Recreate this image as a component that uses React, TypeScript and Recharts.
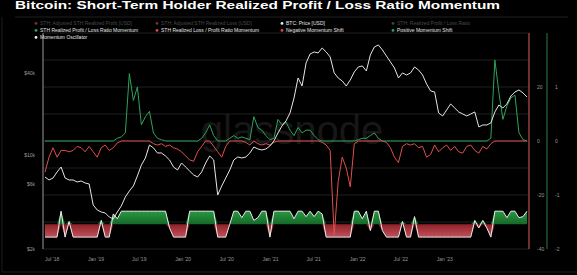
import React from 'react';
import { ComposedChart, Line, Area, XAxis, YAxis, CartesianGrid } from 'recharts';

const W = 577;
const H = 275;
const DAY = 86400000;
const START = Date.UTC(2018, 5, 1);
const STEP_DAYS = 16.83;

// BTC price [USD]
const price = [
  6840, 6500, 6725, 7450, 8115, 6725, 6500, 6500, 6283, 6390,
  6175, 6070, 4240, 3895, 3763, 3700, 3455, 3340, 3763, 4170,
  4863, 5386, 5868, 6960, 8400, 9465, 11820, 11230, 10310, 10310,
  9795, 9150, 8115, 7712, 8690, 8115, 7580, 7080, 6840, 7450,
  8690, 9795, 9150, 5030, 5868, 6725, 7712, 9150, 9630, 9465,
  9630, 10310, 11420, 11040, 10850, 11040, 11620, 12655, 14505, 16350,
  17810, 20420, 26380, 37120, 32370, 47970, 55920, 57870, 56890, 61960,
  57870, 53120, 40440, 37120, 35270, 32370, 35870, 41130, 44800, 45570,
  41840, 54980, 63030, 65230, 59880, 54050, 48790, 44040, 37120, 40440,
  39060, 40440, 44800, 42560, 39060, 33500, 29730, 29230, 20420, 19400,
  21490, 23810, 22240, 20770, 20070, 19400, 20070, 20770, 16080, 16630,
  16630, 17210, 20770, 23400, 22240, 23810, 27290, 29230, 30240, 28730,
  26840,
];

// STH Realized Profit / Loss Ratio Momentum (positive side)
const profitMomentum = [
  0, 0, 0, 0, 0, 0, 0, 0, 0, 0,
  0, 0, 0, 0, 0, 0, 0, 0, 1, 1.5,
  3, 25, 15, 20, 6, 9, 11, 3, 1, 0.5,
  0, 0, 0, 0, 0, 0, 0, 0, 0, 1,
  3, 6, 2, 0, 0, 0, 1, 2, 1, 1.5,
  1, 0.5, 9, 5, 4, 2, 0.5, 1, 8, 6,
  7, 4, 2, 5, 3, 4, 4, 2, 0.5, 0,
  0, 0, 0, 0, 0, 0, 0, 0, 0.5, 1,
  1, 2, 3, 1, 0, 0, 0, 0, 0, 0,
  0, 0, 0, 0, 0, 0, 0, 0, 0, 0,
  0, 0, 0, 0, 0, 0, 0, 0, 0, 0,
  0, 1, 30, 18, 8, 13, 16, 17, 3, 0.5,
  0,
];

// STH Realized Loss / Profit Ratio Momentum (negative side)
const lossMomentum = [
  -11.5, -6, -2.5, -6, -3.5, -3.5, -4, -3.5, -2, -2.5,
  -4, -2, -4, -6, -2.5, -1.5, -3.5, -2.5, -0.7, 0,
  0, 0, 0, 0, 0, 0, 0, -1, -1.5, -1,
  -2, -1.5, -2.5, -3, -4, -5.5, -7, -7.5, -4, -2,
  0, 0, -2, -4, -6, -2, 0, 0, 0, 0,
  -0.5, -1.5, 0, -1, -1.5, -1, -1.5, -0.5, 0, 0,
  0, 0, 0, 0, 0, 0, 0, 0, 0, -0.5,
  -1.5, -3.5, -35, -15, -6, -10, -17, -1, 0, 0,
  0, 0, 0, 0, 0, -0.5, -2.5, -6, -8, -2,
  -1, -1.5, -1, -2.5, -2, -6, -5, -1.5, -4, -2.5,
  -1.5, -3.5, -2, -4, -4.5, -2, -1.5, -3.5, -4.5, -2,
  -3, -1, 0, 0, 0, 0, 0, 0, 0, 0,
  0,
];

// Momentum Oscillator (right axis units)
const OSC_MID = -1.54;
const oscillator = [
  -1.78, -1.78, -1.78, -1.78, -1.30, -1.78, -1.49, -1.78, -1.78, -1.78,
  -1.78, -1.78, -1.78, -1.78, -1.47, -1.78, -1.78, -1.35, -1.44, -1.30,
  -1.30, -1.30, -1.30, -1.30, -1.30, -1.30, -1.30, -1.30, -1.30, -1.30,
  -1.30, -1.61, -1.78, -1.78, -1.78, -1.78, -1.30, -1.30, -1.30, -1.30,
  -1.30, -1.30, -1.30, -1.78, -1.78, -1.78, -1.54, -1.30, -1.30, -1.42,
  -1.30, -1.30, -1.47, -1.42, -1.30, -1.30, -1.78, -1.30, -1.30, -1.30,
  -1.30, -1.30, -1.44, -1.30, -1.30, -1.40, -1.30, -1.40, -1.30, -1.35,
  -1.78, -1.78, -1.78, -1.78, -1.78, -1.78, -1.78, -1.30, -1.30, -1.44,
  -1.30, -1.66, -1.30, -1.30, -1.66, -1.78, -1.78, -1.78, -1.78, -1.49,
  -1.78, -1.78, -1.40, -1.78, -1.78, -1.78, -1.78, -1.78, -1.78, -1.78,
  -1.78, -1.78, -1.78, -1.78, -1.78, -1.78, -1.78, -1.47, -1.61, -1.47,
  -1.61, -1.78, -1.30, -1.30, -1.30, -1.42, -1.30, -1.30, -1.42, -1.40,
  -1.30,
];

const xTicks = [
  Date.UTC(2018, 6, 1), Date.UTC(2019, 0, 1), Date.UTC(2019, 6, 1), Date.UTC(2020, 0, 1),
  Date.UTC(2020, 6, 1), Date.UTC(2021, 0, 1), Date.UTC(2021, 6, 1), Date.UTC(2022, 0, 1),
  Date.UTC(2022, 6, 1), Date.UTC(2023, 0, 1),
];
const xTickLabels = ["Jul '18", "Jan '19", "Jul '19", "Jan '20", "Jul '20", "Jan '21", "Jul '21", "Jan '22", "Jul '22", "Jan '23"];

const priceTicks = [2000, 6000, 10000, 40000];
const priceTickLabels = ['$2k', '$6k', '$10k', '$40k'];

const momentumTicks = [-40, -30, -20, -10, 0, 10, 20, 30, 40];
const momentumLabels = ['-40', '', '-20', '', '0', '', '20', '', ''];

const oscTicks = [-2, -1, 0, 1];
const oscTickLabels = ['-2', '-1', '0', '1'];

const data = price.map((p, i) => ({
  t: START + i * STEP_DAYS * DAY,
  price: p,
  profit: profitMomentum[i],
  loss: lossMomentum[i],
  osc: oscillator[i],
  oscPos: Math.max(oscillator[i], OSC_MID),
  oscNeg: Math.min(oscillator[i], OSC_MID),
}));

const FONT = '"Liberation Sans", Arial, sans-serif';
const tickStyle = { fill: '#9a9a9a', fontSize: 5, fontFamily: FONT };

const legendRows = [
  [
    { x: 36, color: '#7a3030', text: 'STH: Adjusted STH Realized Profit [USD]', dim: true },
    { x: 157, color: '#7a3030', text: 'STH: Adjusted STH Realized Loss [USD]', dim: true },
    { x: 282, color: '#e8e8e8', text: 'BTC: Price [USD]', dim: false },
    { x: 393, color: '#3a4a3a', text: 'STH: Realized Profit / Loss Ratio', dim: true },
  ],
  [
    { x: 36, color: '#2fa35a', text: 'STH Realized Profit / Loss Ratio Momentum', dim: false },
    { x: 157, color: '#e04848', text: 'STH Realized Loss / Profit Ratio Momentum', dim: false },
    { x: 282, color: '#e04848', text: 'Negative Momentum Shift', dim: false },
    { x: 393, color: '#2fa35a', text: 'Positive Momentum Shift', dim: false },
  ],
  [
    { x: 36, color: '#f0f0f0', text: 'Momentum Oscillator', dim: false },
  ],
];
const legendY = [25, 32, 39];

export default function App() {
  return (
    <div style={{ position: 'absolute', left: 0, top: 0, width: W, height: H, background: '#000', overflow: 'hidden' }}>
      <svg width={W} height={H} style={{ position: 'absolute', left: 0, top: 0 }}>
        <text x={292} y={144} textAnchor="middle" fontSize={40} fontFamily={FONT} fill="#3a3a3a" opacity={0.4}>
          glassnode
        </text>
      </svg>
      <div style={{ position: 'absolute', left: 0, top: 0 }}>
        <ComposedChart width={W} height={H} data={data} margin={{ top: 33, right: 8, bottom: 6, left: 0 }}>
          <defs>
            <linearGradient id="gFill" x1="0" y1="0" x2="0" y2="1">
              <stop offset="0%" stopColor="#27993f" />
              <stop offset="100%" stopColor="#17682a" />
            </linearGradient>
            <linearGradient id="rFill" x1="0" y1="0" x2="0" y2="1">
              <stop offset="0%" stopColor="#8e2228" />
              <stop offset="100%" stopColor="#c2505a" />
            </linearGradient>
          </defs>
          <CartesianGrid yAxisId="mom" vertical={false} stroke="#2a2a2a" strokeWidth={0.8} />
          <XAxis
            dataKey="t"
            type="number"
            domain={[data[0].t, data[data.length - 1].t]}
            ticks={xTicks}
            tickFormatter={(v) => xTickLabels[xTicks.indexOf(v)]}
            axisLine={false}
            tickLine={false}
            height={20}
            padding={{ left: 2, right: 2 }}
            tick={tickStyle}
            interval={0}
          />
          <YAxis
            yAxisId="price"
            orientation="left"
            scale="log"
            type="number"
            domain={[2000, 80000]}
            ticks={priceTicks}
            tickFormatter={(v) => priceTickLabels[priceTicks.indexOf(v)]}
            width={43}
            axisLine={{ stroke: '#9a9a9a', strokeWidth: 1 }}
            tickLine={false}
            tick={tickStyle}
            allowDataOverflow
          />
          <YAxis
            yAxisId="mom"
            orientation="right"
            type="number"
            domain={[-40, 40]}
            ticks={momentumTicks}
            tickFormatter={(v) => momentumLabels[momentumTicks.indexOf(v)]}
            width={18}
            axisLine={{ stroke: '#d8605a', strokeWidth: 1 }}
            tickLine={false}
            tick={tickStyle}
            interval={0}
          />
          <YAxis
            yAxisId="osc"
            orientation="right"
            type="number"
            domain={[-2, 2]}
            ticks={oscTicks}
            tickFormatter={(v) => oscTickLabels[oscTicks.indexOf(v)]}
            width={22}
            axisLine={{ stroke: '#2f7a45', strokeWidth: 1 }}
            tickLine={false}
            tick={tickStyle}
            interval={0}
          />
          <Area yAxisId="osc" dataKey="oscPos" baseValue={OSC_MID} type="linear" stroke="none" fill="url(#gFill)" fillOpacity={1} isAnimationActive={false} dot={false} activeDot={false} />
          <Area yAxisId="osc" dataKey="oscNeg" baseValue={OSC_MID} type="linear" stroke="none" fill="url(#rFill)" fillOpacity={1} isAnimationActive={false} dot={false} activeDot={false} />
          <Line yAxisId="osc" dataKey="osc" type="linear" stroke="#ececec" strokeWidth={1} dot={false} activeDot={false} isAnimationActive={false} />
          <Line yAxisId="mom" dataKey="loss" type="linear" stroke="#e0504c" strokeWidth={1} dot={false} activeDot={false} isAnimationActive={false} />
          <Line yAxisId="mom" dataKey="profit" type="linear" stroke="#2fa35a" strokeWidth={1} dot={false} activeDot={false} isAnimationActive={false} />
          <Line yAxisId="price" dataKey="price" type="linear" stroke="#e6e6e6" strokeWidth={1} dot={false} activeDot={false} isAnimationActive={false} />
        </ComposedChart>
      </div>
      <svg width={W} height={H} style={{ position: 'absolute', left: 0, top: 0, pointerEvents: 'none' }}>
        <text x={15} y={9} fontSize={11} fontWeight={700} fontFamily={FONT} fill="#ffffff" textLength={485} lengthAdjust="spacingAndGlyphs">
          Bitcoin: Short-Term Holder Realized Profit / Loss Ratio Momentum
        </text>
        <line x1={15} y1={17} x2={568} y2={17} stroke="#2a2a2a" strokeWidth={0.8} />
        <line x1={2} y1={17} x2={2} y2={272} stroke="#1c1c1c" strokeWidth={1} />
        <line x1={2} y1={272} x2={577} y2={272} stroke="#1c1c1c" strokeWidth={1} />
        {legendRows.map((row, r) =>
          row.map((it, k) => (
            <g key={`${r}-${k}`}>
              <circle cx={it.x} cy={legendY[r] - 1.6} r={1.4} fill={it.color} />
              <text x={it.x + 4} y={legendY[r]} fontSize={5} fontFamily={FONT} fill={it.dim ? '#4a4a4a' : '#e6e6e6'}>
                {it.text}
              </text>
            </g>
          ))
        )}
      </svg>
    </div>
  );
}
